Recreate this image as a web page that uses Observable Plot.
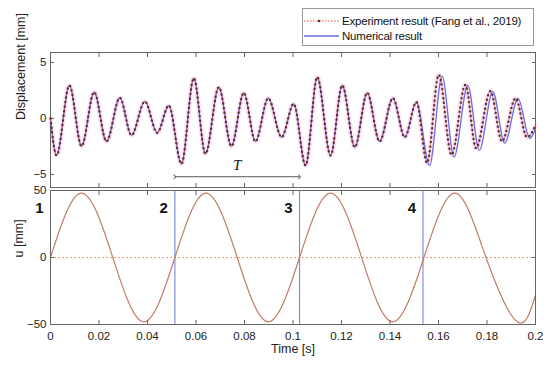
<!DOCTYPE html>
<html><head><meta charset="utf-8">
<script src="https://cdn.jsdelivr.net/npm/d3@7"></script>
<script src="https://cdn.jsdelivr.net/npm/@observablehq/plot@0.6"></script>
<style>
body{margin:0;background:#fff;font-family:"Liberation Sans",Arial,sans-serif;}
#wrap{position:relative;width:550px;height:368px;overflow:hidden;background:#fff;}
#topChart,#botChart{position:absolute;left:0;}
#topChart{top:0}
#botChart{top:176px}
#legend{position:absolute;left:302px;top:8px;width:232px;height:38px;border:1px solid #999;background:#fff;box-sizing:border-box;font-size:11.5px;color:#111;}
#legend .row{position:absolute;left:0;height:16px;display:flex;align-items:center;}
#legend svg{display:block;}
</style></head><body>
<div id="wrap"><div id="topChart"></div><div id="botChart"></div><div id="legend"></div></div>
<script>
// ---- data ----
// displacement extrema (shared by experiment and simulation until ~0.151 s)
const sharedT = [0, 0.0025, 0.0078, 0.0128, 0.018, 0.0231, 0.0286, 0.0334, 0.0389, 0.044, 0.0488,
  0.054, 0.0591, 0.0639, 0.0694, 0.0746, 0.0797, 0.0845, 0.0898, 0.0953, 0.1003,
  0.1052, 0.11, 0.1155, 0.1203, 0.1255, 0.1306, 0.1357, 0.1412, 0.1461, 0.1509];
const sharedV = [0, -3.3, 2.95, -2.47, 2.35, -2.05, 1.85, -1.5, 1.52, -1.28, 1.16,
  -4.05, 3.6, -3.15, 2.8, -2.47, 2.29, -2.05, 1.81, -1.67, 1.31,
  -4.2, 3.69, -3.3, 2.95, -2.56, 2.29, -2.05, 1.81, -1.67, 1.46];
// last cycle, where the two curves separate
const numTailT = [0.1563, 0.1615, 0.1664, 0.1721, 0.1768, 0.1824, 0.1873, 0.1928, 0.1977, 0.2];
const numTailV = [-4.2, 3.78, -3.45, 2.95, -2.85, 2.4, -2.2, 1.8, -1.8, -0.9];
const expTailT = [0.1553, 0.1601, 0.1654, 0.1711, 0.1755, 0.1814, 0.1862, 0.1918, 0.1965, 0.2];
const expTailV = [-3.96, 3.9, -3.24, 3.0, -2.65, 2.44, -2.05, 1.81, -1.67, -0.6];
// imposed displacement u
const sineT = [0, 0.0128, 0.0257, 0.0385, 0.0513, 0.0641, 0.077, 0.0898, 0.1027, 0.1155,
  0.1283, 0.1411, 0.154, 0.1668, 0.1796, 0.1925, 0.2];
const sineU = [0, 48, 0, -48, 0, 48, 0, -48, 0, 48, 0, -48, 0, 48, 0, -48, -28];
// instants 1..4
const markerT = [0, 0.0513, 0.1027, 0.1536];
const markerLabels = ["1", "2", "3", "4"];
const markerLabelU = 37;
const periodLabel = "T";
const periodArrowY = -5.2;
const periodLabelY = -4.2;
// axes
const xTicks = [0, 0.02, 0.04, 0.06, 0.08, 0.1, 0.12, 0.14, 0.16, 0.18, 0.2];
const xTickLabels = ["0", "0.02", "0.04", "0.06", "0.08", "0.1", "0.12", "0.14", "0.16", "0.18", "0.2"];
const yTicksTop = [-5, 0, 5];
const yTicksBot = [-50, 0, 50];
const xTitle = "Time [s]";
const yTitleTop = "Displacement [mm]";
const yTitleBot = "u [mm]";
const seriesNames = ["Experiment result (Fang et al., 2019)", "Numerical result"];

// ---- build tables ----
const numV = sharedV.concat(numTailV), expV = sharedV.concat(expTailV);
const numData = sharedT.concat(numTailT).map((t, i) => ({t, v: numV[i]}));
const expData = sharedT.concat(expTailT).map((t, i) => ({t, v: expV[i]}));
const sineData = sineT.map((t, i) => ({t, u: sineU[i]}));

const C = {
  frame: "#666", text: "#222",
  num: "#6c6ce4", expLine: "#e25050", expDot: "#5a2e2a", halo: "#f2b8e4",
  sine: "#c27c68", vline: "#7486e6", zero: "#f59a80", arrow: "#555"
};
const fmtX = d => xTickLabels[xTicks.indexOf(d)];
const xScale = {domain: [0, 0.2]};

function frameAxes(yTicks, showX) {
  const m = [
    Plot.frame({stroke: C.frame}),
    Plot.axisX({anchor: "bottom", ticks: xTicks, tickSize: -4, tickFormat: () => "", stroke: C.frame, label: null}),
    Plot.axisX({anchor: "top", ticks: xTicks, tickSize: -4, tickFormat: () => "", stroke: C.frame, label: null}),
    Plot.axisY({anchor: "left", ticks: yTicks, tickSize: -4, tickFormat: () => "", stroke: C.frame, label: null}),
    Plot.axisY({anchor: "right", ticks: yTicks, tickSize: -4, tickFormat: () => "", stroke: C.frame, label: null}),
    Plot.axisY({anchor: "left", ticks: yTicks, tickSize: 0, tickPadding: 4, fill: C.text, fontSize: 11.5, label: null})
  ];
  if (showX) m.push(Plot.axisX({anchor: "bottom", ticks: xTicks, tickSize: 0, tickPadding: 7, tickFormat: fmtX, fill: C.text, fontSize: 11.5, label: null}));
  return m;
}

const topChart = Plot.plot({
  width: 550, height: 188,
  marginTop: 52, marginBottom: 1, marginLeft: 50, marginRight: 15,
  style: {fontFamily: "'Liberation Sans', Arial, sans-serif", background: "transparent", overflow: "visible"},
  x: xScale,
  y: {domain: [-6.16, 5.89]},
  marks: [
    Plot.line(expData, {x: "t", y: "v", curve: "monotone-x", stroke: C.halo, strokeWidth: 5, strokeOpacity: 0.35}),
    ...frameAxes(yTicksTop, false),
    Plot.line(numData, {x: "t", y: "v", curve: "monotone-x", stroke: C.num, strokeWidth: 1.3}),
    Plot.line(expData, {x: "t", y: "v", curve: "monotone-x", stroke: C.expLine, strokeWidth: 0.9, strokeDasharray: "1.5 1.5", strokeOpacity: 0.8}),
    Plot.line(expData, {x: "t", y: "v", curve: "monotone-x", stroke: C.expDot, strokeWidth: 2.4, strokeDasharray: "0 4.6", strokeLinecap: "round"}),
    Plot.link([0], {x1: () => markerT[1], x2: () => markerT[2], y1: () => periodArrowY, y2: () => periodArrowY,
      stroke: C.arrow, strokeWidth: 1, markerStart: "arrow", markerEnd: "arrow"}),
    Plot.text([periodLabel], {x: () => (markerT[1] + markerT[2]) / 2, y: () => periodLabelY, text: d => d,
      fontFamily: "'Liberation Serif', 'DejaVu Serif', serif", fontStyle: "italic", fontSize: 15, fill: "#111"}),
    Plot.text([yTitleTop], {frameAnchor: "left", dx: -30, rotate: -90, text: d => d, fontSize: 12.5, fill: C.text})
  ]
});

const botChart = Plot.plot({
  width: 550, height: 192,
  marginTop: 14, marginBottom: 44, marginLeft: 50, marginRight: 15,
  style: {fontFamily: "'Liberation Sans', Arial, sans-serif", background: "transparent", overflow: "visible"},
  x: xScale,
  y: {domain: [-50, 50]},
  marks: [
    Plot.ruleY([0], {stroke: C.zero, strokeWidth: 1, strokeDasharray: "2 2"}),
    Plot.ruleX(markerT.slice(1), {stroke: C.vline, strokeWidth: 1.1}),
    Plot.line(sineData, {x: "t", y: "u", curve: "natural", stroke: C.sine, strokeWidth: 1.2}),
    ...frameAxes(yTicksBot, true),
    Plot.text(markerLabels, {x: (d, i) => markerT[i], y: () => markerLabelU, text: d => d, dx: -7, textAnchor: "end",
      fontWeight: "bold", fontSize: 15, fill: "#111"}),
    Plot.text([yTitleBot], {frameAnchor: "left", dx: -32, rotate: -90, text: d => d, fontSize: 12.5, fill: C.text}),
    Plot.text([xTitle], {frameAnchor: "bottom", dy: 28, text: d => d, fontSize: 12.5, fill: C.text})
  ]
});

document.getElementById("topChart").appendChild(topChart);
document.getElementById("botChart").appendChild(botChart);

// legend
const lg = document.getElementById("legend");
const svgNS = "http://www.w3.org/2000/svg";
seriesNames.forEach((name, i) => {
  const row = document.createElement("div");
  row.className = "row";
  row.style.top = (i === 0 ? 4 : 19) + "px";
  const s = document.createElementNS(svgNS, "svg");
  s.setAttribute("width", 38); s.setAttribute("height", 16);
  const ln = document.createElementNS(svgNS, "line");
  ln.setAttribute("x1", 1); ln.setAttribute("x2", 36); ln.setAttribute("y1", 8); ln.setAttribute("y2", 8);
  if (i === 0) {
    ln.setAttribute("stroke", C.expLine); ln.setAttribute("stroke-width", 1); ln.setAttribute("stroke-dasharray", "1.5 1.5");
    s.appendChild(ln);
    const c = document.createElementNS(svgNS, "circle");
    c.setAttribute("cx", 16); c.setAttribute("cy", 8); c.setAttribute("r", 1.3); c.setAttribute("fill", C.expDot);
    s.appendChild(c);
  } else {
    ln.setAttribute("stroke", C.num); ln.setAttribute("stroke-width", 1.3);
    s.appendChild(ln);
  }
  row.appendChild(s);
  const tx = document.createElement("span");
  tx.textContent = name;
  tx.style.marginLeft = "1px";
  tx.style.letterSpacing = "-0.2px";
  row.appendChild(tx);
  lg.appendChild(row);
});
</script>
</body></html>
